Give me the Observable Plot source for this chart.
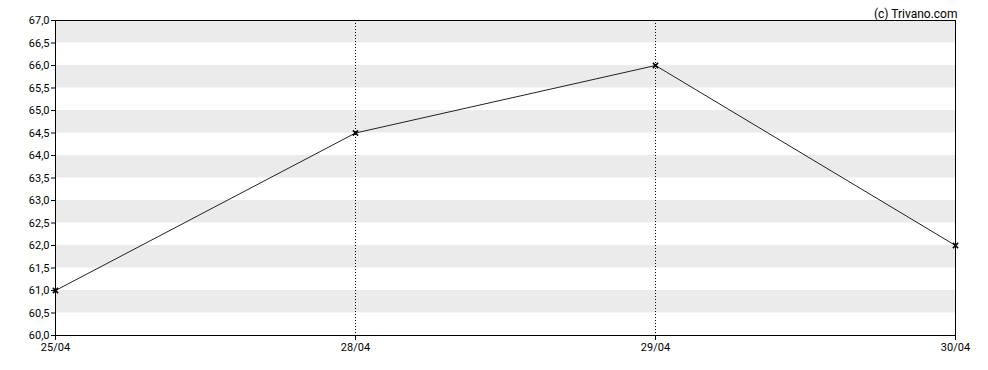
<!DOCTYPE html>
<html>
<head>
<meta charset="utf-8">
<script src="https://cdn.jsdelivr.net/npm/d3@7"></script>
<script src="https://cdn.jsdelivr.net/npm/@observablehq/plot@0.6"></script>
<style>
  html, body { margin: 0; padding: 0; background: #fff; }
  svg { display: block; }
</style>
</head>
<body>
<div id="chart"></div>
<script>
const dates = ["25/04", "28/04", "29/04", "30/04"];
const values = [61.0, 64.5, 66.0, 62.0];
const yTicks = [60.0, 60.5, 61.0, 61.5, 62.0, 62.5, 63.0, 63.5, 64.0, 64.5, 65.0, 65.5, 66.0, 66.5, 67.0];
const bandLows = [60.5, 61.5, 62.5, 63.5, 64.5, 65.5, 66.5];
const gridDates = ["28/04", "29/04"];
const credit = "(c) Trivano.com";

const data = dates.map((d, i) => ({date: d, value: values[i]}));
const bands = bandLows.map(lo => ({lo, hi: lo + 0.5}));
const fmt = v => v.toFixed(1).replace(".", ",");

const chart = Plot.plot({
  width: 988,
  height: 370,
  marginLeft: 55,
  marginRight: 33,
  marginTop: 20,
  marginBottom: 35,
  style: {fontFamily: "Roboto, sans-serif", fontSize: "11px", color: "#000", background: "#fff"},
  x: {type: "point", domain: dates, padding: 0, label: null},
  y: {domain: [60, 67], label: null},
  marks: [
    Plot.rect(bands, {y1: "lo", y2: "hi", fill: "#ebebeb"}),
    Plot.ruleX(gridDates, {stroke: "#000", strokeDasharray: "1,2", strokeWidth: 1}),
    Plot.axisY(yTicks, {tickFormat: fmt, tickSize: 4, tickPadding: 2, fontSize: 11}),
    Plot.axisX(dates, {tickSize: 5, tickPadding: 3, fontSize: 11}),
    Plot.frame({stroke: "#000"}),
    Plot.line(data, {x: "date", y: "value", stroke: "#222", strokeWidth: 1}),
    Plot.dot(data, {x: "date", y: "value", symbol: "times", r: 2.5, stroke: "#000", strokeWidth: 1.5}),
    Plot.text([credit], {frameAnchor: "top-right", text: d => d, dy: -11, dx: 2, textAnchor: "end", fontSize: 12, fill: "#000"})
  ]
});
document.getElementById("chart").appendChild(chart);
</script>
</body>
</html>
